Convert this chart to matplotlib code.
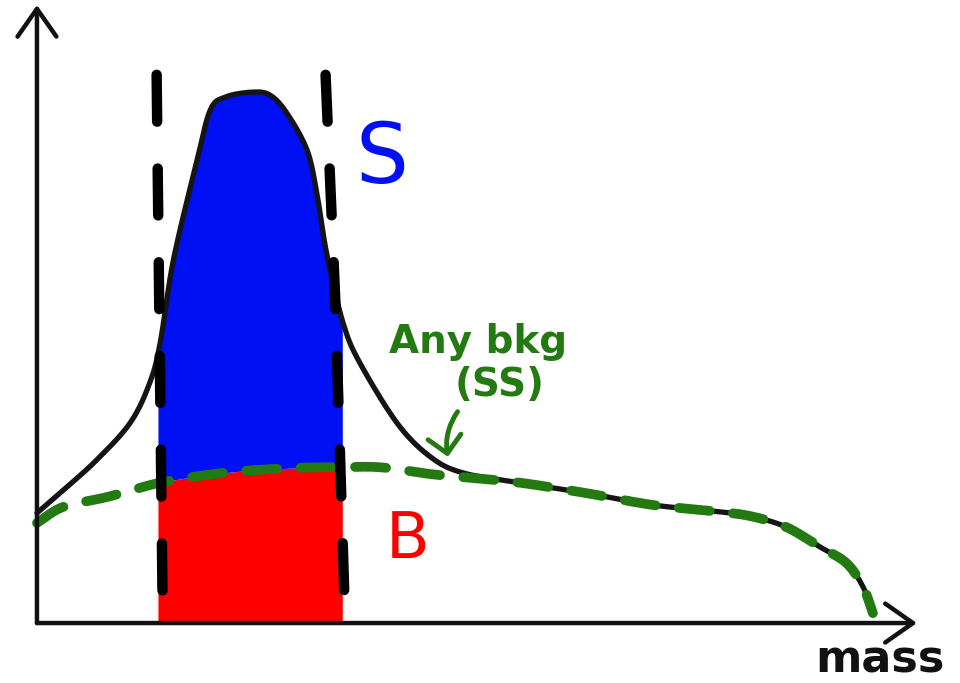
import numpy as np
import matplotlib.pyplot as plt

# total spectrum (signal + background), arbitrary units
mass_tot = [0, 3.0, 6.8, 10.6, 12.8, 14.0, 15.5, 18.2, 19.7, 21.4, 24.5, 26.5,
            28.4, 30.7, 31.8, 32.7, 33.5, 34.8, 36.5, 40.9, 44.7, 48.4, 54.9,
            62.5, 70.0, 77.6, 81.4, 85.2, 89.0, 92.0, 93.9, 95.0]
count_tot = [17.8, 21.5, 26.4, 32.4, 38.8, 45.3, 58.7, 74.9, 83.0, 85.1, 85.9, 85.4,
             82.5, 76.5, 69.6, 61.5, 56.0, 48.5, 42.6, 32.4, 26.9, 24.3, 22.7,
             21.0, 19.1, 18.0, 17.2, 15.5, 12.3, 9.7, 5.8, 1.6]

# background only (same sign)
mass_bkg = [0, 3.0, 8.0, 14.3, 21.9, 29.5, 34.4, 39.0, 44.7, 48.4, 54.9,
            62.5, 70.0, 77.6, 81.4, 85.2, 89.0, 92.0, 93.9, 95.0]
count_bkg = [16.2, 18.8, 20.4, 22.8, 24.4, 25.1, 25.2, 25.2, 24.1, 23.6, 22.7,
             21.0, 19.1, 18.0, 17.2, 15.5, 12.3, 9.7, 5.8, 1.6]

# signal window
win_lo, win_hi = 13.75, 34.7
cut_left_m = [13.6, 14.3]
cut_left_c = [88.7, 0.5]
cut_right_m = [32.8, 33.9, 35.0]
cut_right_c = [88.7, 52.3, 1.3]


def smooth(x, y, n=20):
    # catmull-rom through the points so the pen strokes look round
    p = np.column_stack([x, y]).astype(float)
    p = np.vstack([2 * p[0] - p[1], p, 2 * p[-1] - p[-2]])
    t = np.linspace(0, 1, n, endpoint=False)[:, None]
    out = []
    for i in range(1, len(p) - 2):
        p0, p1, p2, p3 = p[i - 1], p[i], p[i + 1], p[i + 2]
        out.append(0.5 * (2 * p1 + (-p0 + p2) * t
                          + (2 * p0 - 5 * p1 + 4 * p2 - p3) * t ** 2
                          + (-p0 + 3 * p1 - 3 * p2 + p3) * t ** 3))
    out.append(p[-2][None, :])
    out = np.vstack(out)
    return out[:, 0], out[:, 1]


tot_x, tot_y = smooth(mass_tot, count_tot)
bkg_x, bkg_y = smooth(mass_bkg, count_bkg)

fig = plt.figure(figsize=(9.6, 6.83), dpi=100)
ax = fig.add_axes([0, 0, 1, 1])
ax.set_xlim(-4.2, 104.9)
ax.set_ylim(-9.7, 100.8)
ax.axis('off')

# fill S and B inside the window
xs = np.linspace(win_lo, win_hi, 300)
tot_i = np.interp(xs, tot_x, tot_y)
bkg_i = np.interp(xs, bkg_x, bkg_y)
ax.fill_between(xs, 0, bkg_i, color='#ff0000', lw=0, zorder=1)
ax.fill_between(xs, bkg_i, tot_i, color='#0010f5', lw=0, zorder=1)

# axes with arrows
arrow = dict(arrowstyle='->,head_length=0.5,head_width=0.35', lw=3.2,
             color='#111111', mutation_scale=40, shrinkA=0, shrinkB=0,
             capstyle='round', joinstyle='round')
ax.annotate('', xy=(0, 100.0), xytext=(0, 0), arrowprops=arrow, zorder=5)
ax.annotate('', xy=(100.0, 0), xytext=(0, 0), arrowprops=arrow, zorder=5)

# curves
ax.plot(tot_x, tot_y, color='#151515', lw=3.8,
        solid_capstyle='round', solid_joinstyle='round', zorder=3)
ax.plot(bkg_x, bkg_y, color='#227a10', lw=7, dashes=(3.2, 2.4),
        dash_capstyle='round', zorder=4)

# window edges
for cm, cc in [(cut_left_m, cut_left_c), (cut_right_m, cut_right_c)]:
    ax.plot(cm, cc, color='black', lw=7.5, dashes=(4.5, 4.5),
            dash_capstyle='round', zorder=6)

# labels
ax.text(39.2, 75, 'S', color='#0010f5', fontsize=60, ha='center', va='center')
ax.text(42.1, 13.4, 'B', color='#ff0000', fontsize=46, ha='center', va='center')
ax.text(50.1, 45.5, 'Any bkg', color='#227a10', fontsize=28, fontweight='bold',
        ha='center', va='center')
ax.text(52.6, 38.5, '(SS)', color='#227a10', fontsize=28, fontweight='bold',
        ha='center', va='center')
ax.annotate('', xy=(46.7, 26.9), xytext=(47.8, 34.2),
            arrowprops=dict(arrowstyle='->,head_length=0.4,head_width=0.4',
                            lw=3.5, color='#227a10', mutation_scale=30,
                            shrinkA=0, shrinkB=0,
                            connectionstyle='arc3,rad=0.2'), zorder=5)
ax.text(95.8, -6.0, 'mass', color='#111111', fontsize=32, fontweight='bold',
        ha='center', va='center')

fig.savefig('out.png', dpi=100)
